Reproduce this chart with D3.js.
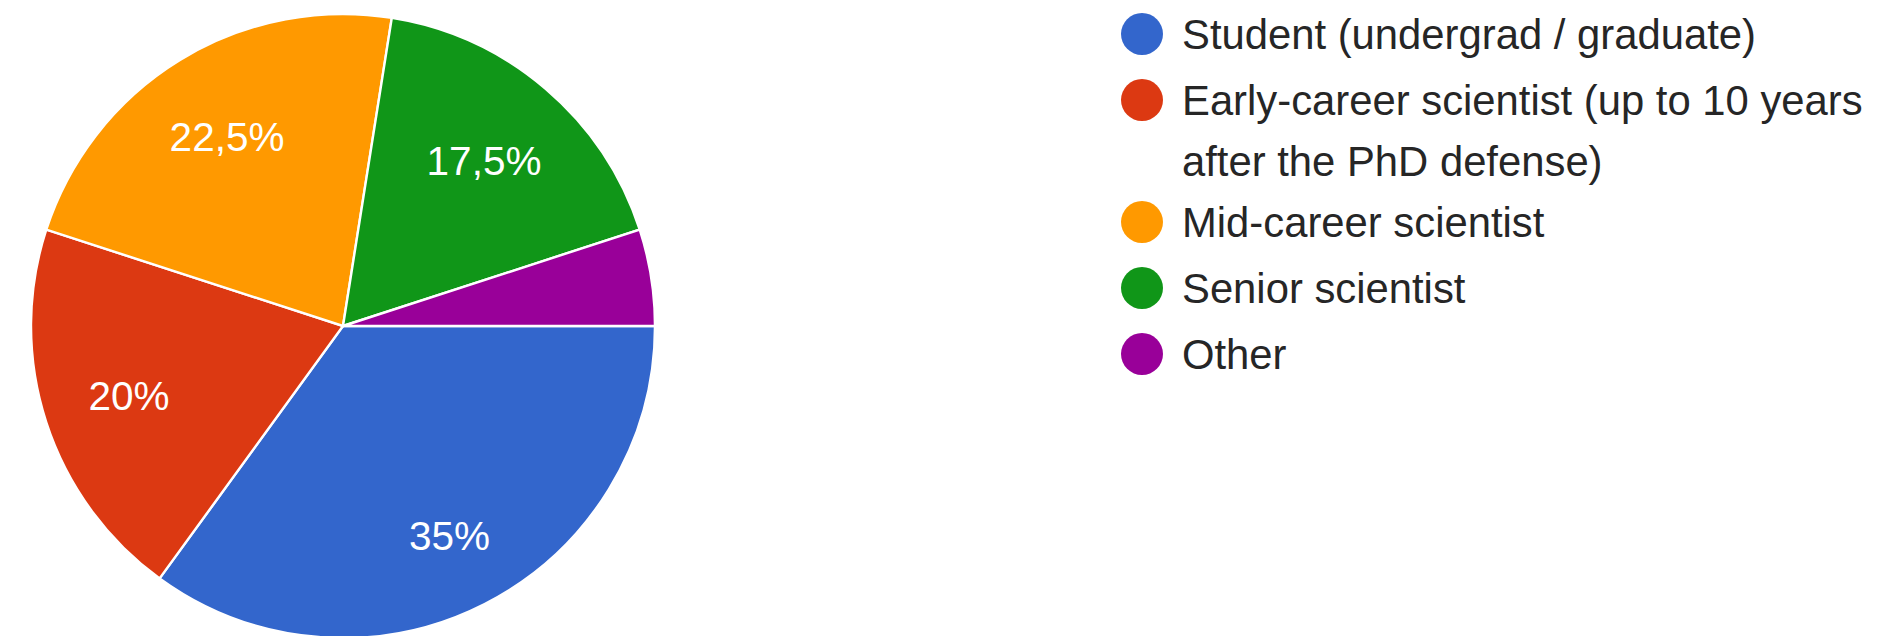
<!DOCTYPE html>
<html>
<head>
<meta charset="utf-8">
<script src="https://cdn.jsdelivr.net/npm/d3@7"></script>
<style>
  html, body { margin: 0; padding: 0; background: #fff; }
  text { font-family: "Liberation Sans", Arial, sans-serif; }
</style>
</head>
<body>
<div id="chart"></div>
<script>
var
    width = 1903,
    height = 636;

// answers per category (40 respondents)
var categories = [
  "Student (undergrad / graduate)",
  "Early-career scientist (up to 10 years after the PhD defense)",
  "Mid-career scientist",
  "Senior scientist",
  "Other"
];
var counts = [14, 8, 9, 7, 2];
var colors = ["#3366cc", "#dc3912", "#ff9900", "#109618", "#990099"];

// legend lines (long label wraps in two)
var legendLines = [
  ["Student (undergrad / graduate)"],
  ["Early-career scientist (up to 10 years", "after the PhD defense)"],
  ["Mid-career scientist"],
  ["Senior scientist"],
  ["Other"]
];

var cx = 343, cy = 326, radius = 312;

var svg = d3.select("#chart")
    .append("svg")
    .attr("width", width)
    .attr("height", height);

var data = categories.map(function(c, i) { return {name: c, value: counts[i], i: i}; });
var total = d3.sum(counts);

var pie = d3.pie()
    .value(function(d) { return d.value; })
    .sort(null)
    .startAngle(Math.PI / 2)
    .endAngle(Math.PI / 2 + 2 * Math.PI);

var arc = d3.arc().innerRadius(0).outerRadius(radius);

var color = d3.scaleOrdinal().domain(d3.range(categories.length)).range(colors);

var g = svg.append("g").attr("transform", "translate(" + cx + "," + cy + ")");

var arcs = pie(data);

g.selectAll("path")
    .data(arcs)
  .enter().append("path")
    .attr("d", arc)
    .attr("fill", function(d) { return color(d.data.i); })
    .attr("stroke", "#fff")
    .attr("stroke-width", 2.4);

var fmt = function(v) {
  var p = Math.round(v / total * 1000) / 10;
  return String(p).replace(".", ",") + "%";
};

// labels: push each label out until its outer corner reaches 0.86 r
var labels = g.selectAll("text.lbl")
    .data(arcs.filter(function(d) { return d.value / total >= 0.1; }))
  .enter().append("text")
    .attr("class", "lbl")
    .attr("fill", "#fff")
    .attr("font-size", 40.5)
    .attr("text-anchor", "middle")
    .attr("dy", "0.36em")
    .text(function(d) { return fmt(d.value); });

labels.each(function(d) {
  var w = this.getComputedTextLength() / 2, h = 15.5;
  var a = (d.startAngle + d.endAngle) / 2;
  var ux = Math.sin(a), uy = -Math.cos(a);
  var lim = radius * 0.86, dist = lim;
  for (var k = 0; k < 30; k++) {
    var px = dist * ux + (ux < 0 ? -w : w), py = dist * uy + (uy < 0 ? -h : h);
    dist += lim - Math.sqrt(px * px + py * py);
  }
  d3.select(this).attr("x", dist * ux).attr("y", dist * uy);
});

// legend
var legend = svg.append("g").attr("transform", "translate(1142,34)");
var y = 0;
legendLines.forEach(function(lines, i) {
  var item = legend.append("g").attr("transform", "translate(0," + y + ")");
  item.append("circle")
      .attr("r", 21)
      .attr("fill", color(i));
  var t = item.append("text")
      .attr("font-size", 41.8)
      .attr("fill", "#262626");
  lines.forEach(function(l, j) {
    t.append("tspan")
        .attr("x", 40)
        .attr("y", j * 61 + 15)
        .text(l);
  });
  y += 66 + (lines.length - 1) * 56;
});
</script>
</body>
</html>
